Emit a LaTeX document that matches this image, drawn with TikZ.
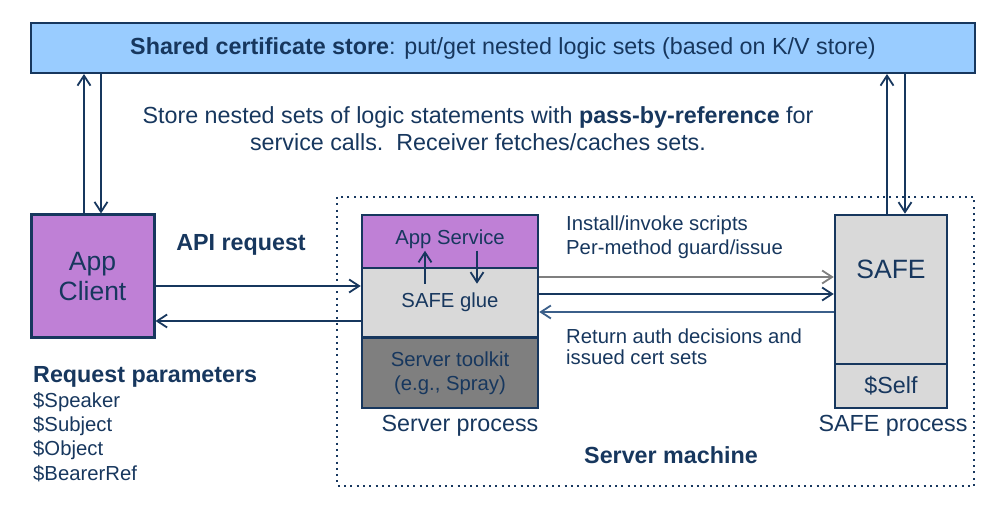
\documentclass[tikz,border=0pt]{standalone}
\usepackage{fontspec}
\setmainfont{Liberation Sans}
\usetikzlibrary{arrows.meta}
\definecolor{navy}{HTML}{17375E}
\definecolor{storeblue}{HTML}{99CCFF}
\definecolor{apppurple}{HTML}{BF80D6}
\definecolor{gluegray}{HTML}{D9D9D9}
\definecolor{kitgray}{HTML}{7F7F7F}
\definecolor{retblue}{HTML}{3B5F8A}
\newcommand{\fs}[2]{\fontsize{#1}{#2}\selectfont}
\begin{document}
\begin{tikzpicture}[x=1pt, y=-1pt, text=navy,
    box/.style={rectangle, draw=navy, line width=2.5pt, inner sep=0pt, align=center},
    lbl/.style={inner sep=0pt, align=left, anchor=west},
    big/.style={font=\fs{23.3}{27}},
    small/.style={font=\fs{20.3}{24}},
    arr/.style={-{Straight Barb[length=10pt, width=13pt, line width=1.8pt]}, draw=navy, line width=1.5pt}]
        \useasboundingbox (0,0) rectangle (1007,510);
        % shared store
        \node(store) at (503,48) [box, line width=2pt, fill=storeblue, minimum width=944, minimum height=50, big] {\textbf{Shared certificate store}: put/get nested logic sets (based on K/V store)};
        \node(note) at (478,128.5) [align=center, inner sep=0pt, big] {Store nested sets of logic statements with \textbf{pass-by-reference} for\\service calls.\ \ Receiver fetches/caches sets.};
        % machine
        \draw [navy, line width=2pt, dash pattern=on 2pt off 4.3pt] (337,197) rectangle (974,486);
        \node(machine) at (671,455) [big] {\textbf{Server machine}};
        % client
        \node(client) at (92.5,276.5) [box, line width=3pt, fill=apppurple, minimum width=123, minimum height=123, font=\fs{26.5}{30}] {App\\Client};
        \node(api) at (241,245) [big] {\textbf{API request}};
        \node(params) at (33,377) [lbl, big] {\textbf{Request parameters}};
        \node(speaker) at (33,402) [lbl, small] {\$Speaker};
        \node(subject) at (33,426) [lbl, small] {\$Subject};
        \node(object) at (33,450) [lbl, small] {\$Object};
        \node(bearer) at (33,474) [lbl, small] {\$BearerRef};
        % server process
        \node(appsvc) at (450,241.5) [box, fill=apppurple, minimum width=176, minimum height=53] {};
        \node at (450,239) [small] {App Service};
        \node(glue) at (450,302.5) [box, fill=gluegray, minimum width=176, minimum height=69, small] {SAFE glue};
        \node(kit) at (450,373) [box, fill=kitgray, minimum width=176, minimum height=70, small] {Server toolkit\\(e.g., Spray)};
        \node(sproc) at (460,426) [big] {Server process};
        \draw [arr] ([xshift=-25pt,yshift=-17pt]glue.north) -- ([xshift=-25pt,yshift=16pt]glue.north);
        \draw [arr] ([xshift=27pt,yshift=16pt]glue.north) -- ([xshift=27pt,yshift=-17pt]glue.north);
        % safe process
        \node(safe) at (891,289.5) [box, fill=gluegray, minimum width=112, minimum height=149] {};
        \node at (891,269) [font=\fs{26.5}{30}] {SAFE};
        \node(self) at (891,386) [box, fill=gluegray, minimum width=112, minimum height=44, big] {\$Self};
        \node(safeproc) at (893,426) [big] {SAFE process};
        \node(install) at (566,237) [lbl, small] {Install/invoke scripts\\Per-method guard/issue};
        \node(ret) at (566,346.5) [lbl, font=\fs{20.3}{21.5}] {Return auth decisions and\\issued cert sets};
        % connectors
        \draw [arr] (client.north -| 84,0) -- (store.south -| 84,0);
        \draw [arr] (store.south -| 101,0) -- (client.north -| 101,0);
        \draw [arr] (safe.north -| 887,0) -- (store.south -| 887,0);
        \draw [arr] (store.south -| 905,0) -- (safe.north -| 905,0);
        \draw [arr] (client.east |- 0,286) -- (glue.west |- 0,286);
        \draw [arr] (glue.west |- 0,321) -- (client.east |- 0,321);
        \draw [arr, draw=kitgray, line width=2pt] (glue.east |- 0,277) -- (safe.west |- 0,277);
        \draw [arr] (glue.east |- 0,294) -- (safe.west |- 0,294);
        \draw [arr, draw=retblue] (safe.west |- 0,312) -- (glue.east |- 0,312);
\end{tikzpicture}
\end{document}
